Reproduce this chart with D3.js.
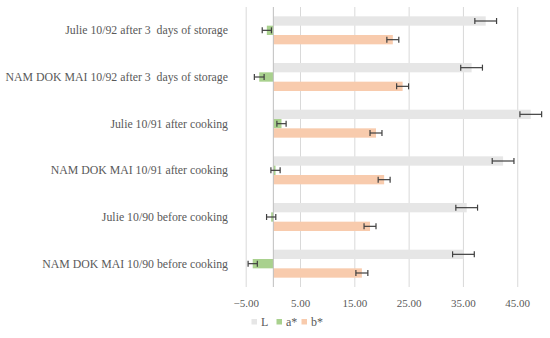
<!DOCTYPE html>
<html lang="en">
<head>
<meta charset="UTF-8">
<title>Colour values</title>
<script src="https://cdn.jsdelivr.net/npm/d3@7"></script>
<style>
  body { margin: 0; background: #fff; }
  text { font-family: "Liberation Serif", "DejaVu Serif", serif; fill: #595959; white-space: pre; }
</style>
</head>
<body>
<svg id="chart" width="550" height="338"></svg>
<script>
// categories, top to bottom
const categories = [
  "Julie 10/92 after 3  days of storage",
  "NAM DOK MAI 10/92 after 3  days of storage",
  "Julie 10/91 after cooking",
  "NAM DOK MAI 10/91 after cooking",
  "Julie 10/90 before cooking",
  "NAM DOK MAI 10/90 before cooking"
];
const seriesNames = ["L", "a*", "b*"];
const valuesL  = [39.1, 36.5, 47.4, 42.3, 35.6, 35.0];
const valuesA  = [-1.2, -2.6, 1.5, 0.4, -0.4, -3.8];
const valuesB  = [22.0, 23.8, 18.9, 20.4, 17.8, 16.3];
const errL = [2.0, 2.0, 2.0, 2.0, 2.0, 2.0];
const errA = [0.85, 0.9, 0.85, 0.85, 0.85, 0.85];
const errB = [1.1, 1.1, 1.1, 1.1, 1.1, 1.1];
const tickValues = [-5, 5, 15, 25, 35, 45];
const colors = ["#e6e6e6", "#a9d18e", "#f8cbad"];

const svg = d3.select("#chart");

const x = d3.scaleLinear().domain([-5, 50]).range([246.2, 544.9]);
const y = d3.scaleBand().domain(categories).range([7, 287])
  .paddingInner(0.4).paddingOuter(0.2);
const ySub = d3.scaleBand().domain(seriesNames).range([0, y.bandwidth()]);
const color = d3.scaleOrdinal().domain(seriesNames).range(colors);

// grid
svg.append("g").selectAll("line").data(tickValues).join("line")
  .attr("x1", d => x(d)).attr("x2", d => x(d))
  .attr("y1", 7).attr("y2", 287)
  .attr("stroke", "#d9d9d9").attr("stroke-width", 1);

// bars
const rows = [];
categories.forEach((c, i) => {
  rows.push({ cat: c, s: "L", v: valuesL[i], e: errL[i] });
  rows.push({ cat: c, s: "a*", v: valuesA[i], e: errA[i] });
  rows.push({ cat: c, s: "b*", v: valuesB[i], e: errB[i] });
});

svg.append("g").selectAll("rect").data(rows).join("rect")
  .attr("x", d => x(Math.min(0, d.v)))
  .attr("width", d => Math.abs(x(d.v) - x(0)))
  .attr("y", d => y(d.cat) + ySub(d.s))
  .attr("height", ySub.bandwidth())
  .attr("fill", d => color(d.s));

// zero axis
svg.append("line")
  .attr("x1", x(0)).attr("x2", x(0)).attr("y1", 7).attr("y2", 287)
  .attr("stroke", "#bfbfbf").attr("stroke-width", 1);

// error bars
const eb = svg.append("g").attr("stroke", "#404040").attr("stroke-width", 1.2);
rows.forEach(d => {
  const cy = y(d.cat) + ySub(d.s) + ySub.bandwidth() / 2;
  const x0 = x(d.v - d.e), x1 = x(d.v + d.e);
  eb.append("line").attr("x1", x0).attr("x2", x1).attr("y1", cy).attr("y2", cy);
  eb.append("line").attr("x1", x0).attr("x2", x0).attr("y1", cy - 3).attr("y2", cy + 3);
  eb.append("line").attr("x1", x1).attr("x2", x1).attr("y1", cy - 3).attr("y2", cy + 3);
});

// category labels
svg.append("g").selectAll("text").data(categories).join("text")
  .attr("x", 228)
  .attr("y", d => y(d) + y.bandwidth() / 2)
  .attr("dy", "0.35em")
  .attr("text-anchor", "end")
  .attr("font-size", 11.8)
  .text(d => d);

// tick labels
svg.append("g").selectAll("text").data(tickValues).join("text")
  .attr("x", d => x(d))
  .attr("y", 307)
  .attr("text-anchor", "middle")
  .attr("font-size", 11)
  .text(d => d3.format(".2f")(d).replace("-", "\u2212"));

// legend
const legX = [251.5, 276.5, 301.5];
const leg = svg.append("g").selectAll("g").data(seriesNames).join("g")
  .attr("transform", (d, i) => `translate(${legX[i]},319)`);
leg.append("rect").attr("width", 5.5).attr("height", 5.5).attr("fill", d => color(d));
leg.append("text").attr("x", 9.5).attr("y", 6.5).attr("font-size", 12).text(d => d);
</script>
</body>
</html>
